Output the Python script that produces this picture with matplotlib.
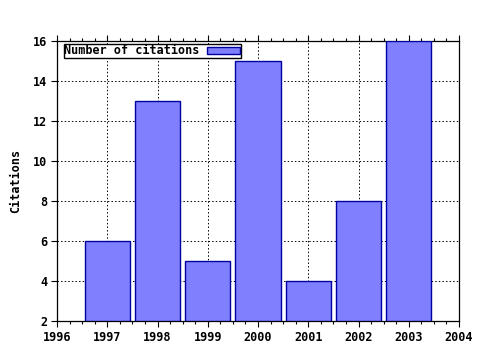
import matplotlib
matplotlib.use("Agg")
import matplotlib.pyplot as plt
from matplotlib.ticker import MultipleLocator, NullLocator

years = [1997, 1998, 1999, 2000, 2001, 2002, 2003]
citations = [6, 13, 5, 15, 4, 8, 16]
xticks = [1996, 1997, 1998, 1999, 2000, 2001, 2002, 2003, 2004]
yticks = [2, 4, 6, 8, 10, 12, 14, 16]

plt.rcParams['font.family'] = ['DejaVu Sans Mono']
plt.rcParams['font.weight'] = 'bold'
plt.rcParams['font.size'] = 8

fig = plt.figure(figsize=(4.8, 3.5), dpi=100)
ax = fig.add_axes([57/480, 29/350, (459-57)/480, (321-41)/350])
ax.bar(years, [c - 2 for c in citations], bottom=2, width=0.9,
       color='#8080ff', edgecolor='#0000a0', linewidth=1.0,
       label='Number of citations', zorder=3)
ax.set_xlim(1996, 2004)
ax.set_ylim(2, 16)
ax.set_xticks(xticks)
ax.set_yticks(yticks)
ax.xaxis.set_minor_locator(MultipleLocator(0.25))
ax.yaxis.set_minor_locator(NullLocator())
ax.tick_params(axis='x', which='both', direction='out', top=True, bottom=True, width=0.8, color='black')
ax.tick_params(axis='y', which='both', direction='out', left=True, right=False, width=0.8, color='black')
ax.tick_params(which='major', length=4)
ax.tick_params(which='minor', length=2)
ax.tick_params(axis='both', labelsize=8.5, pad=3)
ax.grid(True, which='major', color='black', linestyle=(0, (1.5, 2.2)), linewidth=0.7, zorder=0)
ax.set_ylabel('Citations', fontsize=8.5, fontweight='bold', labelpad=8)
for s in ax.spines.values():
    s.set_linewidth(0.9)
leg = ax.legend(loc='upper left', bbox_to_anchor=(0.017, 0.99), frameon=True, fancybox=False,
                edgecolor='black', framealpha=1, borderpad=0.05, handlelength=2.8,
                handleheight=0.55, markerfirst=False, handletextpad=0.6, borderaxespad=0,
                prop={'size': 8.5, 'weight': 'bold'})
leg.get_frame().set_linewidth(1.0)
fig.savefig('out.png', dpi=100, facecolor='white')
